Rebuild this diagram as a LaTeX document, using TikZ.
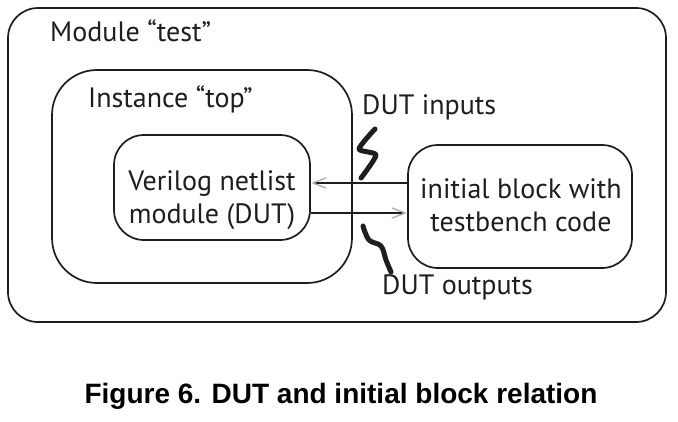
\documentclass[tikz,border=0pt]{standalone}
\usepackage{fontspec}
\setmainfont{PT Sans}
\newfontfamily\capfont{Liberation Sans}
\definecolor{ink}{HTML}{1E1E1E}
\tikzset{
  box/.style={draw=ink, line width=1.7pt, rectangle},
  lbl/.style={font=\fontsize{28}{33}\selectfont, text=ink, inner sep=0pt},
  sig/.style={draw=ink, line width=2.8pt},
  head/.style={draw=gray!65, line width=1.3pt, line cap=round},
  squig/.style={draw=ink, line width=5pt, line cap=round, line join=round},
}
\begin{document}
\begin{tikzpicture}[x=1pt,y=-1pt]
\useasboundingbox (0,0) rectangle (678,421);
\fill[white] (0,0) rectangle (678,421);
\node[box, rounded corners=30pt, minimum width=658pt, minimum height=314pt] (outer) at (337,165) {};
\node[box, rounded corners=45pt, minimum width=300pt, minimum height=213pt] (inst) at (202,176.5) {};
\node[box, rounded corners=30pt, minimum width=196pt, minimum height=105pt] (dut) at (212,187.5) {};
\node[box, rounded corners=30pt, minimum width=224pt, minimum height=123pt] (init) at (520,206.5) {};
\node[lbl, anchor=west] (tmod) at (50,31) {Module “test”};
\node[lbl, anchor=west] (tinst) at (88,99) {Instance “top”};
\node[lbl, align=center] (tdut) at (212,200) {Verilog netlist\\module (DUT)};
\node[lbl, align=center] (tinit) at (521,205) {initial block with\\testbench code};
\node[lbl, anchor=west] (tin) at (362,107) {DUT inputs};
\node[lbl, anchor=west] (tout) at (382,287) {DUT outputs};
\coordinate (a1s) at ([yshift=23.5pt]init.west);
\coordinate (a1e) at ([yshift=23.5pt]init.west -| dut.east);
\coordinate (a2s) at ([yshift=-25.5pt]dut.east);
\coordinate (a2e) at ([yshift=-25.5pt]dut.east -| init.west);
\draw[sig] (a1s) -- ([xshift=4pt]a1e);
\draw[head] ([xshift=2pt]a1e) -- ++(13,-5) ([xshift=2pt]a1e) -- ++(13,5);
\draw[sig] (a2s) -- ([xshift=-4pt]a2e);
\draw[head] ([xshift=-2pt]a2e) -- ++(-13,-5) ([xshift=-2pt]a2e) -- ++(-13,5);
\draw[squig] plot[smooth, tension=0.4] coordinates {(375,129) (359,149) (376,155) (361,178)};
\draw[squig] plot[smooth, tension=0.6] coordinates {(363,226) (369,240) (381,246) (386,260) (391,272)};
\node[font=\capfont\bfseries\fontsize{28}{32}\selectfont, inner sep=0pt] (cap) at (341,396) {Figure 6. DUT and initial block relation};
\end{tikzpicture}
\end{document}
